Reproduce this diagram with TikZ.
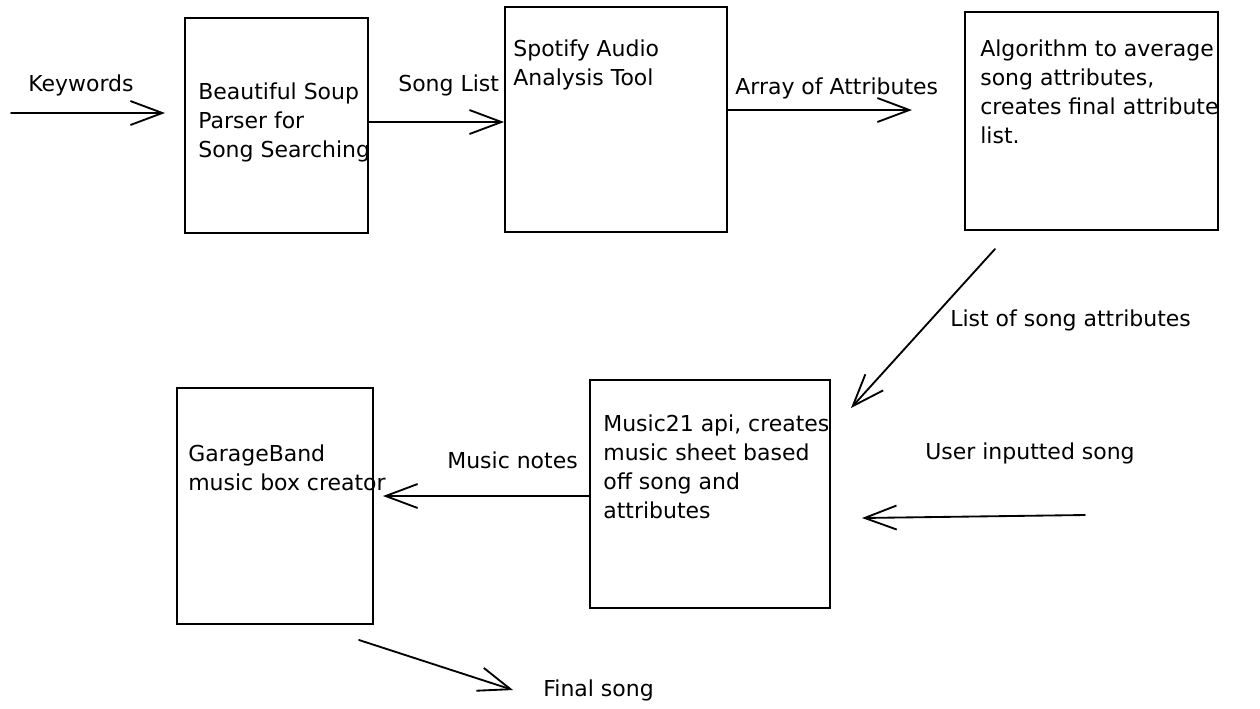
\documentclass[tikz,border=0pt]{standalone}
\usepackage{fontspec}
\setmainfont{DejaVu Sans}
\usetikzlibrary{arrows.meta,fit}
\begin{document}
\begin{tikzpicture}[x=0.02cm,y=-0.02cm,
  box/.style={draw, line width=1.05pt, inner sep=0pt},
  lbl/.style={anchor=north west, inner sep=0pt, font=\fontsize{12.5}{16.5}\selectfont, align=left},
  arr/.style={draw, line width=1.05pt, line cap=round, -{Straight Barb[length=0.64cm,width=0.48cm,line width=1.05pt]}}]
\useasboundingbox (0,0) rectangle (1260,708);
% boxes
\node[box, fit={(185,18)(368,233)}] (b1) {};
\node[box, fit={(505,7)(727,232)}] (b2) {};
\node[box, fit={(965,12)(1218,230)}] (b3) {};
\node[box, fit={(590,380)(830,608)}] (b4) {};
\node[box, fit={(177,388)(373,624)}] (b5) {};
% box texts
\node[lbl] (t1) at (198,82) {Beautiful Soup\\Parser for\\Song Searching};
\node[lbl] (t2) at (513,39) {Spotify Audio\\Analysis Tool};
\node[lbl] (t3) at (980,39) {Algorithm to average\\song attributes,\\creates final attribute\\list.};
\node[lbl] (t4) at (603,414) {Music21 api, creates\\music sheet based\\off song and\\attributes};
\node[lbl] (t5) at (188,444) {GarageBand\\music box creator};
% connector labels
\node[lbl] (k) at (28,74) {Keywords};
\node[lbl] (sl) at (398,74) {Song List};
\node[lbl] (aa) at (735,77) {Array of Attributes};
\node[lbl] (ls) at (950,309) {List of song attributes};
\node[lbl] (ui) at (925,442) {User inputted song};
\node[lbl] (mn) at (447,451) {Music notes};
\node[lbl] (fs) at (543,679) {Final song};
% free ends
\coordinate (k0) at (11,113);
\coordinate (k1) at (165,113);
\coordinate (s1) at (0,122);
\coordinate (a1) at (912,110);
\coordinate (l0) at (995,249);
\coordinate (l1) at (851,408);
\coordinate (m0) at (0,496);
\coordinate (m1) at (383,496);
\coordinate (u0) at (1085,515);
\coordinate (u1) at (862,518);
\coordinate (f0) at (359,640);
\coordinate (f1) at (513,690);
% connectors
\draw[arr] (k0) -- (k1);
\draw[arr] (b1.east |- s1) -- (b2.west |- s1);
\draw[arr] (b2.east |- a1) -- (a1);
\draw[arr] (l0) -- (l1);
\draw[arr] (b4.west |- m0) -- (m1);
\draw[arr] (u0) -- (u1);
\draw[arr] (f0) -- (f1);
\end{tikzpicture}
\end{document}
